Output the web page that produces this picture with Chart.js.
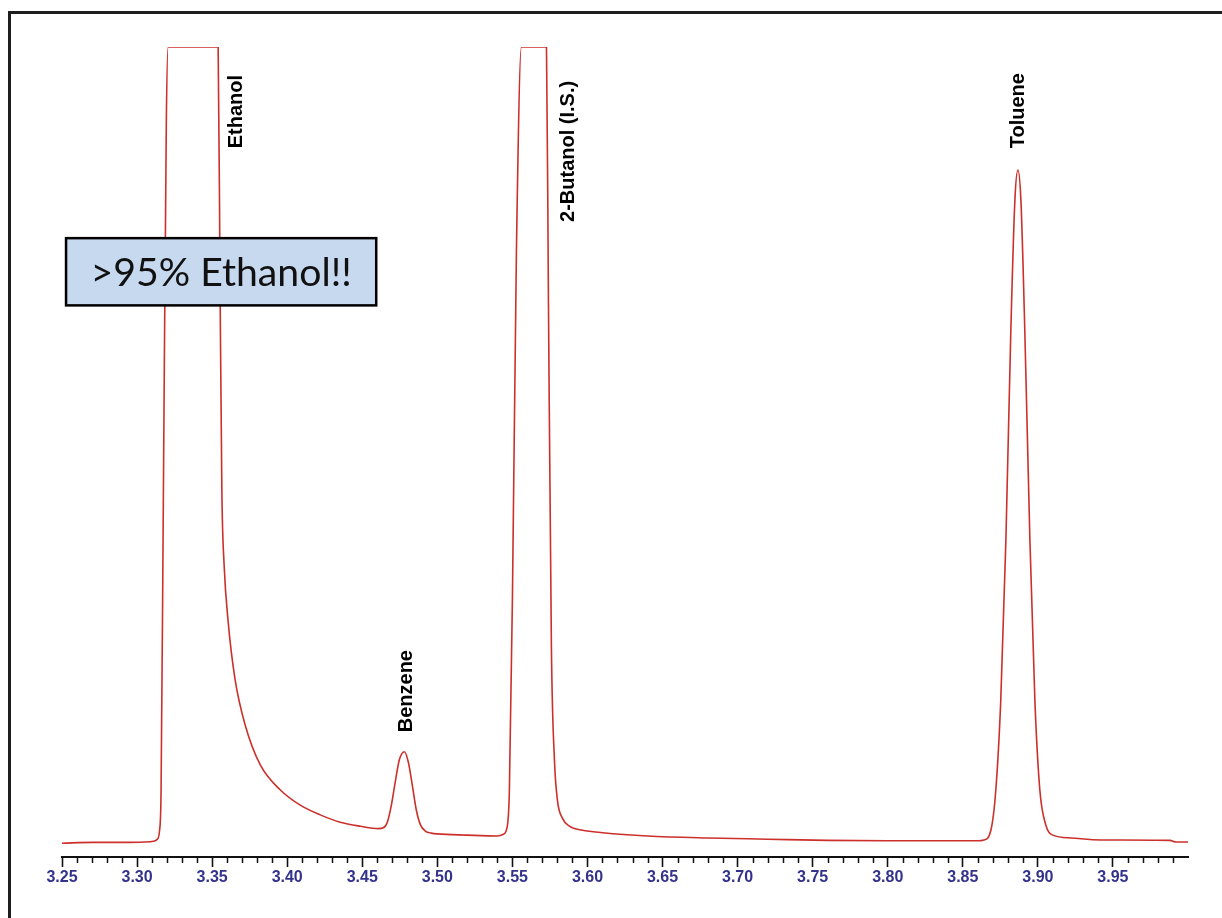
<!DOCTYPE html>
<html>
<head>
<meta charset="utf-8">
<title>Chromatogram</title>
<script src="https://cdn.jsdelivr.net/npm/chart.js@4"></script>
<style>
  html, body { margin: 0; padding: 0; background: #fff; }
  canvas { display: block; }
</style>
</head>
<body>
<canvas id="chroma" width="1222" height="918"></canvas>
<script>
// retention time (min) and detector signal (% of full scale, 100 = saturated)
const retentionTime = [
  3.250, 3.270, 3.290, 3.305, 3.311, 3.3135, 3.3150, 3.3160, 3.3175, 3.3195, 3.3207,
  3.3540, 3.3553, 3.3565, 3.3580, 3.3607, 3.3653, 3.3720, 3.3820, 3.3953, 3.4087,
  3.4220, 3.4353, 3.4487, 3.4607, 3.4640, 3.4667, 3.4693, 3.4720, 3.4747, 3.4780,
  3.4807, 3.4833, 3.4860, 3.4887, 3.4920, 3.4960, 3.5000, 3.5200, 3.5400, 3.5440,
  3.5467, 3.5480, 3.5500, 3.5527, 3.5560, 3.5727, 3.5740, 3.5760, 3.5780, 3.5800,
  3.5833, 3.5880, 3.5967, 3.6100, 3.6400, 3.6800, 3.7200, 3.7600, 3.8000, 3.8600,
  3.8640, 3.8687, 3.8720, 3.8753, 3.8787, 3.8820, 3.8847, 3.8867, 3.8887, 3.8913,
  3.8947, 3.8980, 3.9013, 3.9053, 3.9100, 3.9220, 3.9420, 3.9880, 3.9920, 4.0000
];
const signal = [
  1.7, 1.8, 1.8, 1.85, 1.95, 2.2, 3.3, 8.3, 44, 91, 100,
  100, 70, 45, 36, 29, 21.9, 16.3, 11.4, 8.3, 6.4,
  5.2, 4.3, 3.8, 3.5, 3.6, 4.3, 6.3, 9.3, 12.0, 13.0,
  11.7, 8.9, 5.8, 4.0, 3.2, 2.95, 2.85, 2.7, 2.6, 2.8,
  3.9, 8.3, 31.7, 75, 100, 100, 68.8, 25.6, 12.0, 7.0,
  4.8, 3.8, 3.3, 3.0, 2.6, 2.35, 2.2, 2.05, 2.0, 2.0,
  2.1, 3.3, 8.3, 19.4, 39.1, 65, 81.1, 84.8, 81.1, 65,
  39.1, 19.4, 8.3, 3.95, 2.7, 2.35, 2.1, 2.05, 1.85, 1.85
];

// axis ticks
const majorTicks = [3.25, 3.30, 3.35, 3.40, 3.45, 3.50, 3.55, 3.60, 3.65, 3.70, 3.75, 3.80, 3.85, 3.90, 3.95];
const tickLabels = ["3.25", "3.30", "3.35", "3.40", "3.45", "3.50", "3.55", "3.60", "3.65", "3.70", "3.75", "3.80", "3.85", "3.90", "3.95"];
const minorStep = 0.01;

// peak names, placed at (retention time of text baseline, signal where text starts)
const peakNames = ["Ethanol", "Benzene", "2-Butanol (I.S.)", "Toluene"];
const peakLabelRt = [3.3700, 3.4833, 3.5913, 3.8907];
const peakLabelY = [87.5, 15.4, 78.4, 87.5];

// callout box
const calloutText = ">95% Ethanol!!";
const calloutRt = [3.2527, 3.4593];
const calloutY = [76.4, 68.1];

const minorTicks = [];
for (let i = 0; i <= 74; i++) minorTicks.push(+(3.25 + i * minorStep).toFixed(2));

const isMajor = (v) => majorTicks.some(m => Math.abs(m - v) < 1e-6);

// frame, minor ticks, peak labels and callout
const extras = {
  id: "extras",
  afterDatasetsDraw(chart) {
    const { ctx, scales: { x, y } } = chart;
    ctx.save();

    // minor ticks
    const yAxis = chart.chartArea.bottom;
    ctx.strokeStyle = "#111";
    ctx.lineWidth = 1.5;
    minorTicks.forEach(v => {
      if (isMajor(v)) return;
      const px = Math.round(x.getPixelForValue(v)) + 0.5;
      ctx.beginPath();
      ctx.moveTo(px, yAxis);
      ctx.lineTo(px, yAxis + 6);
      ctx.stroke();
    });

    // peak names, rotated
    ctx.fillStyle = "#000";
    ctx.font = "bold 20px 'Liberation Sans', Arial, sans-serif";
    ctx.textAlign = "left";
    ctx.textBaseline = "alphabetic";
    peakNames.forEach((name, i) => {
      ctx.save();
      ctx.translate(x.getPixelForValue(peakLabelRt[i]), y.getPixelForValue(peakLabelY[i]));
      ctx.rotate(-Math.PI / 2);
      ctx.fillText(name, 0, 0);
      ctx.restore();
    });

    // callout box
    const bx0 = x.getPixelForValue(calloutRt[0]);
    const bx1 = x.getPixelForValue(calloutRt[1]);
    const by0 = y.getPixelForValue(calloutY[0]);
    const by1 = y.getPixelForValue(calloutY[1]);
    ctx.fillStyle = "#c6d9ef";
    ctx.fillRect(bx0, by0, bx1 - bx0, by1 - by0);
    ctx.strokeStyle = "#000";
    ctx.lineWidth = 2.5;
    ctx.strokeRect(bx0, by0, bx1 - bx0, by1 - by0);
    ctx.font = "36px Lato, sans-serif";
    const w = ctx.measureText(calloutText).width;
    const size = 36 * 261 / w;
    ctx.font = size.toFixed(1) + "px Lato, sans-serif";
    ctx.fillStyle = "#111";
    ctx.textAlign = "center";
    ctx.textBaseline = "middle";
    ctx.fillText(calloutText, (bx0 + bx1) / 2, (by0 + by1) / 2 + 2);

    // page frame (left and top edges)
    ctx.strokeStyle = "#1e1e1e";
    ctx.lineWidth = 3;
    ctx.beginPath();
    ctx.moveTo(9.5, chart.height);
    ctx.lineTo(9.5, 12.5);
    ctx.lineTo(chart.width, 12.5);
    ctx.stroke();

    ctx.restore();
  }
};

new Chart(document.getElementById("chroma"), {
  type: "line",
  data: {
    datasets: [{
      data: retentionTime.map((t, i) => ({ x: t, y: signal[i] })),
      borderColor: "#cc302b",
      borderWidth: 1.6,
      pointRadius: 0,
      fill: false,
      cubicInterpolationMode: "monotone"
    }]
  },
  options: {
    responsive: false,
    animation: false,
    layout: { padding: { left: 62, right: 34, top: 47, bottom: 0 } },
    plugins: { legend: { display: false }, tooltip: { enabled: false } },
    scales: {
      x: {
        type: "linear",
        min: 3.25,
        max: 4.0,
        afterBuildTicks: (axis) => { axis.ticks = minorTicks.map(v => ({ value: v })); },
        afterFit: (axis) => { axis.height = 61; },
        grid: {
          drawOnChartArea: false,
          drawTicks: true,
          tickLength: 10,
          tickWidth: 1.6,
          tickColor: (ctx) => (ctx.tick && isMajor(ctx.tick.value)) ? "#111" : "rgba(0,0,0,0)"
        },
        border: { display: true, color: "#111", width: 2 },
        ticks: {
          autoSkip: false,
          maxRotation: 0,
          padding: 1,
          color: "#33338c",
          font: { family: "'Liberation Sans', Arial, sans-serif", size: 16, weight: "bold" },
          callback: (v) => {
            const k = majorTicks.findIndex(m => Math.abs(m - v) < 1e-6);
            return k >= 0 ? tickLabels[k] : "";
          }
        }
      },
      y: {
        display: false,
        min: 0,
        max: 100
      }
    }
  },
  plugins: [extras]
});
</script>
</body>
</html>
